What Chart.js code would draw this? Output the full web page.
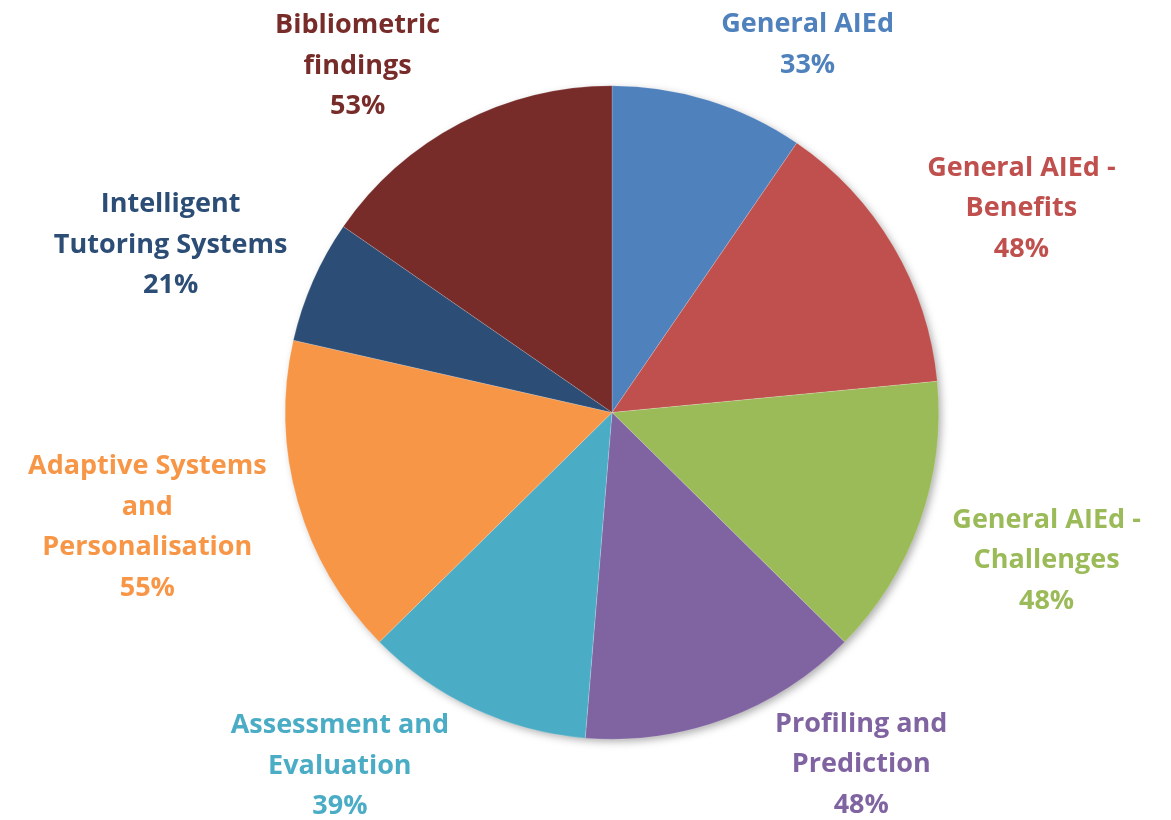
<!DOCTYPE html>
<html>
<head>
<meta charset="utf-8">
<script src="https://cdn.jsdelivr.net/npm/chart.js@4"></script>
<style>
  html, body { margin: 0; padding: 0; background: #ffffff; }
  #wrap { width: 1171px; height: 820px; position: relative; }
</style>
</head>
<body>
<div id="wrap"><canvas id="pie" width="1171" height="820"></canvas></div>
<script>
// Topic categories and their shares (%)
const categories = [
  ['General AIEd'],
  ['General AIEd -', 'Benefits'],
  ['General AIEd -', 'Challenges'],
  ['Profiling and', 'Prediction'],
  ['Assessment and', 'Evaluation'],
  ['Adaptive Systems', 'and', 'Personalisation'],
  ['Intelligent', 'Tutoring Systems'],
  ['Bibliometric', 'findings']
];
const shares = [33, 48, 48, 48, 39, 55, 21, 53];

const sliceColors = ['#4F81BD', '#C0504D', '#9BBB59', '#8064A2', '#4BACC6', '#F79646', '#2C4D75', '#772C2A'];

// Where each label block sits: direction (degrees clockwise from 12 o'clock)
// and distance from the centre as a multiple of the pie radius.
const labelPlacement = [
  { angle: 28.0, dist: 1.275 },
  { angle: 63.5, dist: 1.40 },
  { angle: 108.8, dist: 1.405 },
  { angle: 144.7, dist: 1.32 },
  { angle: 217.6, dist: 1.365 },
  { angle: 256.1, dist: 1.465 },
  { angle: 290.8, dist: 1.445 },
  { angle: 323.7, dist: 1.315 }
];

const FONT = '700 27px "Open Sans", Lato, sans-serif';
const LINE_H = 40.5;

// Soft drop shadow under the whole pie
const pieShadow = {
  id: 'pieShadow',
  beforeDatasetsDraw(chart) {
    const arc = chart.getDatasetMeta(0).data[0];
    if (!arc) return;
    const { x, y, outerRadius } = arc.getProps(['x', 'y', 'outerRadius'], true);
    const ctx = chart.ctx;
    ctx.save();
    ctx.shadowColor = 'rgba(0,0,0,0.35)';
    ctx.shadowBlur = 9;
    ctx.shadowOffsetX = 3;
    ctx.shadowOffsetY = 3;
    ctx.beginPath();
    ctx.arc(x, y, outerRadius - 1, 0, Math.PI * 2);
    ctx.fillStyle = '#ffffff';
    ctx.fill();
    ctx.restore();
  }
};

// Category name + percentage, drawn outside each slice
const outsideLabels = {
  id: 'outsideLabels',
  afterDatasetsDraw(chart) {
    const meta = chart.getDatasetMeta(0);
    const ctx = chart.ctx;
    const values = chart.data.datasets[0].data;
    ctx.save();
    ctx.font = FONT;
    ctx.textAlign = 'center';
    ctx.textBaseline = 'middle';
    meta.data.forEach((arc, i) => {
      const { x, y, outerRadius } = arc.getProps(['x', 'y', 'outerRadius'], true);
      const p = labelPlacement[i];
      const a = p.angle * Math.PI / 180;
      const cx = x + Math.sin(a) * outerRadius * p.dist;
      const cy = y - Math.cos(a) * outerRadius * p.dist;
      const lines = chart.data.labels[i].concat([values[i] + '%']);
      const top = cy - (lines.length - 1) * LINE_H / 2;
      ctx.fillStyle = sliceColors[i];
      lines.forEach((t, k) => ctx.fillText(t, cx, top + k * LINE_H));
    });
    ctx.restore();
  }
};

new Chart(document.getElementById('pie'), {
  type: 'pie',
  data: {
    labels: categories,
    datasets: [{
      data: shares,
      backgroundColor: sliceColors,
      borderColor: 'rgba(255,255,255,0.35)',
      borderWidth: 0.5
    }]
  },
  options: {
    responsive: false,
    animation: false,
    rotation: 0,
    layout: { padding: { top: 85, bottom: 80, left: 285, right: 232 } },
    plugins: {
      legend: { display: false },
      tooltip: { enabled: false }
    }
  },
  plugins: [pieShadow, outsideLabels]
});
</script>
</body>
</html>
